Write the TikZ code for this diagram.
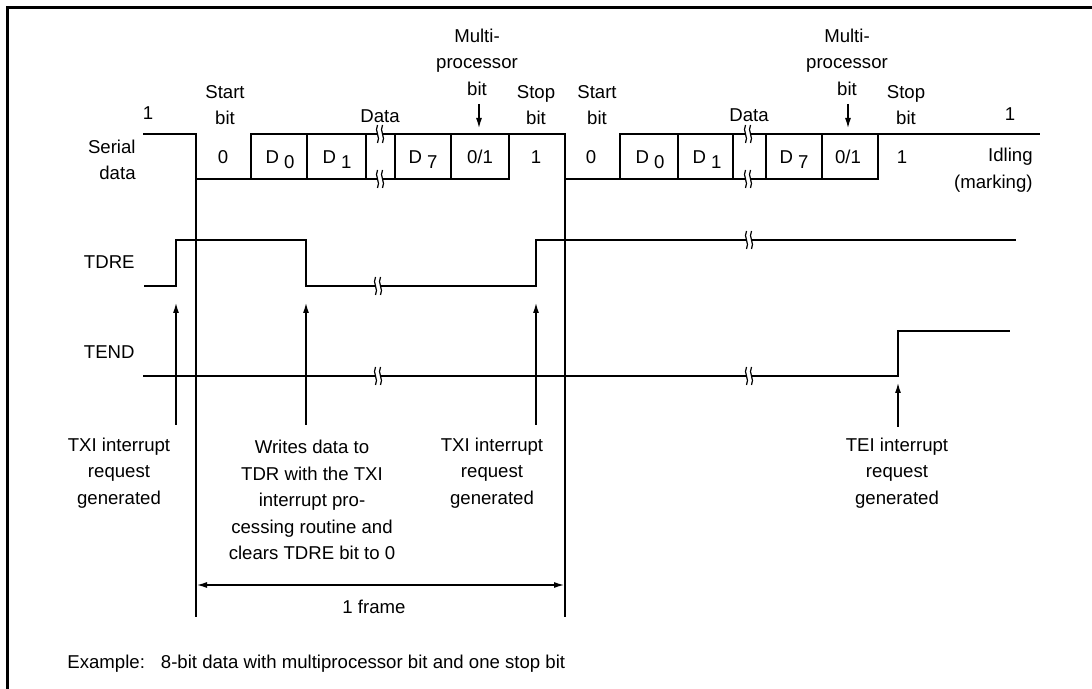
\documentclass[tikz,border=0pt]{standalone}
\usepackage{fontspec}
\setmainfont{Liberation Sans}
\usetikzlibrary{arrows.meta}
\newcommand\Dsub[1]{D\hspace{2.5pt}\raisebox{-2.5pt}{#1}}
\begin{document}
\begin{tikzpicture}[x=0.5pt,y=-0.5pt,
  sig/.style={line width=1.3pt, line join=miter},
  guide/.style={line width=0.6pt},
  lbl/.style={font=\fontsize{9.3}{13.25}\selectfont, align=center, inner sep=0pt},
  bitlbl/.style={lbl, anchor=base},
  tip/.style={-{Latex[length=5pt,width=3pt]}},
  arr/.style={line width=0.6pt, tip},
  brk/.pic={
    \fill[white] (-2.5,-3.5) rectangle (2.5,3.5);
    \draw[line width=0.6pt] (-2.5,-9) .. controls (-6,-3) and (1,3) .. (-2.5,9);
    \draw[line width=0.6pt] (2.5,-9) .. controls (-1,-3) and (6,3) .. (2.5,9);
  }]
\useasboundingbox (0,0) rectangle (1092,689);
% frame (right and bottom edges are outside the picture)
\draw[line width=1.5pt] (1092,8) -- (7,8) -- (7,689);

% ---------- Serial data ----------
\draw[sig] (143,134) -- (196,134) -- (196,179) -- (509,179) -- (509,134) -- (565,134)
  -- (565,179) -- (878,179) -- (878,134) -- (1040,134);
\draw[sig] (251,179) -- (251,134) -- (509,134);
\draw[sig] (620,179) -- (620,134) -- (878,134);
\foreach \x in {307,366,395,451,678,733,766,822}
  \draw[sig] (\x,134) -- (\x,179);
\foreach \x/\y in {380/134,380/179,748/134,748/179}
  \pic at (\x,\y) {brk};

% ---------- TDRE ----------
\draw[sig] (144,286) -- (176,286) -- (176,240) -- (306,240) -- (306,286) -- (536,286)
  -- (536,240) -- (1016,240);
\pic at (378,286) {brk};
\pic at (749,240) {brk};

% ---------- TEND ----------
\draw[sig] (143,376) -- (898,376) -- (898,331) -- (1010,331);
\pic at (378,376) {brk};
\pic at (749,376) {brk};

% ---------- guides and frame ----------
\coordinate (g1t) at (196,179);
\coordinate (g1b) at (196,617);
\coordinate (g2t) at (565,179);
\coordinate (g2b) at (565,617);
\draw[guide] (g1t) -- (g1b);
\draw[guide] (g2t) -- (g2b);
\coordinate (f1) at (197,585);
\coordinate (f2) at (564,585);
\draw[guide, {Latex[length=5pt,width=3pt]}-{Latex[length=5pt,width=3pt]}] (f1) -- (f2);
\node[lbl] (frame) at (374,607) {1 frame};

% ---------- labels: top ----------
\node[lbl] (one1) at (148,113) {1};
\node[lbl] (start1) at (225,105) {Start\\bit};
\node[lbl] (data1) at (380,116) {Data};
\node[lbl] (mp1) at (477,62) {Multi-\\processor\\bit};
\node[lbl] (stop1) at (536,105) {Stop\\bit};
\node[lbl] (start2) at (597,105) {Start\\bit};
\node[lbl] (data2) at (749,115) {Data};
\node[lbl] (mp2) at (847,62) {Multi-\\processor\\bit};
\node[lbl] (stop2) at (906,105) {Stop\\bit};
\node[lbl] (one2) at (1010,114) {1};
\coordinate (m1a) at (479,104);
\coordinate (m1b) at (479,128);
\coordinate (m2a) at (848,104);
\coordinate (m2b) at (848,128);
\draw[arr] (m1a) -- (m1b);
\draw[arr] (m2a) -- (m2b);

% ---------- bit labels ----------
\node[bitlbl] (b0a) at (223,164) {0};
\node[bitlbl] (b1a) at (280,164) {\Dsub{0}};
\node[bitlbl] (b2a) at (337,164) {\Dsub{1}};
\node[bitlbl] (b3a) at (423,164) {\Dsub{7}};
\node[bitlbl] (b4a) at (480,164) {0/1};
\node[bitlbl] (b5a) at (536,164) {1};
\node[bitlbl] (b0b) at (591,164) {0};
\node[bitlbl] (b1b) at (650,164) {\Dsub{0}};
\node[bitlbl] (b2b) at (707,164) {\Dsub{1}};
\node[bitlbl] (b3b) at (794,164) {\Dsub{7}};
\node[bitlbl] (b4b) at (848,164) {0/1};
\node[bitlbl] (b5b) at (902,164) {1};

% ---------- signal names ----------
\node[lbl, anchor=east, align=right] (serial) at (136,160) {Serial\\data};
\node[lbl, anchor=east] (tdre) at (135,262) {TDRE};
\node[lbl, anchor=east] (tend) at (135,352) {TEND};
\node[lbl, anchor=east, align=right] (idle) at (1033,170) {Idling\\(marking)};

% ---------- event arrows ----------
\coordinate (e1b) at (176,425); \coordinate (e1t) at (176,303);
\coordinate (e2b) at (306,425); \coordinate (e2t) at (306,303);
\coordinate (e3b) at (536,425); \coordinate (e3t) at (536,303);
\coordinate (e4b) at (898,427); \coordinate (e4t) at (898,383);
\draw[arr] (e1b) -- (e1t);
\draw[arr] (e2b) -- (e2t);
\draw[arr] (e3b) -- (e3t);
\draw[arr] (e4b) -- (e4t);

% ---------- bottom labels ----------
\node[lbl] (txi1) at (119,473) {TXI interrupt\\request\\generated};
\node[lbl] (wr) at (312,500) {Writes data to\\TDR with the TXI\\interrupt pro-\\cessing routine and\\clears TDRE bit to 0};
\node[lbl] (txi2) at (492,473) {TXI interrupt\\request\\generated};
\node[lbl] (tei) at (897,473) {TEI interrupt\\request\\generated};
\node[lbl, anchor=west] (ex) at (67,664) {Example:\hspace{8pt}8-bit data with multiprocessor bit and one stop bit};
\end{tikzpicture}
\end{document}
